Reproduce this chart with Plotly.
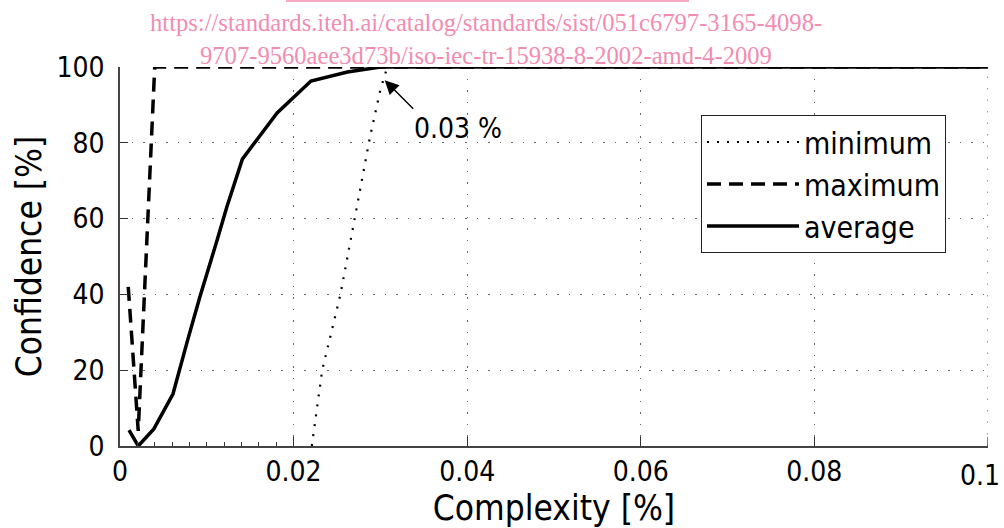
import plotly.graph_objects as go

# Data
avg_x = [0.00104, 0.0021, 0.0039, 0.0061, 0.0078, 0.0092, 0.0112, 0.0123, 0.0141, 0.0181, 0.0220, 0.0262, 0.0300, 0.1]
avg_y = [4.2, 0.0, 4.5, 13.7, 28.0, 39.3, 54.4, 63.0, 75.7, 87.9, 96.3, 98.7, 100.0, 100.0]

max_x = [0.00095, 0.0021, 0.0040, 0.1]
max_y = [42.0, 4.0, 100.0, 100.0]

min_x = [0.0221, 0.0233, 0.0254, 0.0270, 0.0288, 0.0300, 0.0308, 0.1]
min_y = [0.0, 20.0, 40.0, 60.0, 81.5, 94.0, 100.0, 100.0]

x_ticks = [0, 0.02, 0.04, 0.06, 0.08, 0.1]
x_tick_labels = ["0", "0.02", "0.04", "0.06", "0.08", "0.1"]
x_minor_ticks = [0.002, 0.004, 0.006, 0.008, 0.010, 0.012, 0.014, 0.016, 0.018]
y_ticks = [0, 20, 40, 60, 80, 100]

FONT = "DejaVu Sans Condensed, Liberation Sans Narrow, DejaVu Sans, sans-serif"
PINK = "#F28CB1"
GRID = dict(color="#666", width=1.2, dash="1.5px,10px")

fig = go.Figure()
fig.add_trace(go.Scatter(x=min_x, y=min_y, mode="lines", name="minimum",
                         line=dict(color="black", width=2.2, dash="2px,8px"), cliponaxis=False))
fig.add_trace(go.Scatter(x=max_x, y=max_y, mode="lines", name="maximum",
                         line=dict(color="black", width=3.5, dash="14px,8px"), cliponaxis=False))
fig.add_trace(go.Scatter(x=avg_x, y=avg_y, mode="lines", name="average",
                         line=dict(color="black", width=3.5), cliponaxis=False))

# last label is drawn separately so that it stays inside the page
shown_tick_text = x_tick_labels[:-1] + [""]

fig.update_layout(
    width=1004, height=528,
    margin=dict(l=120, r=16, t=67, b=82),
    plot_bgcolor="white", paper_bgcolor="white",
    font=dict(family=FONT, size=28, color="black"),
    showlegend=True,
    legend=dict(x=(701 - 120) / 868, y=(446 - 115) / 379, xanchor="left", yanchor="top",
                bordercolor="#222", borderwidth=1, bgcolor="white",
                font=dict(family=FONT, size=30), itemwidth=92,
                tracegroupgap=0),
    xaxis=dict(range=[0, 0.10001], tickvals=x_ticks, ticktext=shown_tick_text,
               ticks="inside", ticklen=9, tickwidth=1, tickcolor="#333",
               showline=True, linecolor="#444", linewidth=1.5,
               showgrid=True, gridcolor=GRID["color"], gridwidth=GRID["width"], griddash=GRID["dash"],
               zeroline=False, automargin=False,
               minor=dict(tickvals=x_minor_ticks, ticks="inside", ticklen=4,
                          tickcolor="#333", showgrid=False),
               title=dict(text="Complexity [%]", font=dict(size=35), standoff=9),
               tickfont=dict(size=28)),
    yaxis=dict(range=[0, 100], tickvals=y_ticks,
               ticks="inside", ticklen=8, tickwidth=1, tickcolor="#333",
               showline=True, linecolor="#444", linewidth=1.5,
               showgrid=True, gridcolor=GRID["color"], gridwidth=GRID["width"], griddash=GRID["dash"],
               zeroline=False, automargin=False, ticklabelstandoff=8,
               title=dict(text="Confidence [%]", font=dict(size=35), standoff=4),
               tickfont=dict(size=28)),
)

fig.add_annotation(x=x_ticks[-1], y=(446 - 475) / 379, xref="x", yref="paper",
                   text=x_tick_labels[-1], showarrow=False, xanchor="right", yanchor="middle",
                   xshift=14, font=dict(family=FONT, size=28, color="black"))

# Right-edge grid line (Plotly hides grid lines that sit on the plot edge)
fig.add_shape(type="line", xref="x", yref="paper", x0=x_ticks[-1], x1=x_ticks[-1], y0=0, y1=1,
              line=GRID, layer="below")
fig.add_shape(type="line", xref="x", yref="paper", x0=x_ticks[-1], x1=x_ticks[-1], y0=0, y1=9 / 379,
              line=dict(color="#333", width=1), layer="above")

# Arrow annotation
fig.add_annotation(x=0.0305, y=96.5, ax=30, ay=30, xref="x", yref="y",
                   showarrow=True, arrowhead=2, arrowsize=2.0, arrowwidth=1.4,
                   arrowcolor="black", text="")
fig.add_annotation(x=(458 - 120) / 8680, y=(446 - 128) / 3.79, xref="x", yref="y", text="0.03 %",
                   showarrow=False, font=dict(family=FONT, size=28, color="black"))

# Watermark text
fig.add_annotation(x=(486 - 120) / 868, y=(446 - 22) / 379, xref="paper", yref="paper", showarrow=False,
                   xanchor="center", yanchor="middle",
                   text="https://standards.iteh.ai/catalog/standards/sist/051c6797-3165-4098-",
                   font=dict(family="Liberation Serif", size=24.6, color=PINK))
fig.add_annotation(x=(486 - 120) / 868, y=(446 - 55) / 379, xref="paper", yref="paper", showarrow=False,
                   xanchor="center", yanchor="middle",
                   text="9707-9560aee3d73b/iso-iec-tr-15938-8-2002-amd-4-2009",
                   font=dict(family="Liberation Serif", size=24.6, color=PINK))
fig.add_shape(type="line", xref="paper", yref="paper",
              x0=(286 - 120) / 868, x1=(689 - 120) / 868, y0=(446 - 1) / 379, y1=(446 - 1) / 379,
              line=dict(color=PINK, width=1.5))

fig.write_html("out.html", config={"displayModeBar": False},
               post_script="document.body.style.margin='0';document.body.style.overflow='hidden';")
